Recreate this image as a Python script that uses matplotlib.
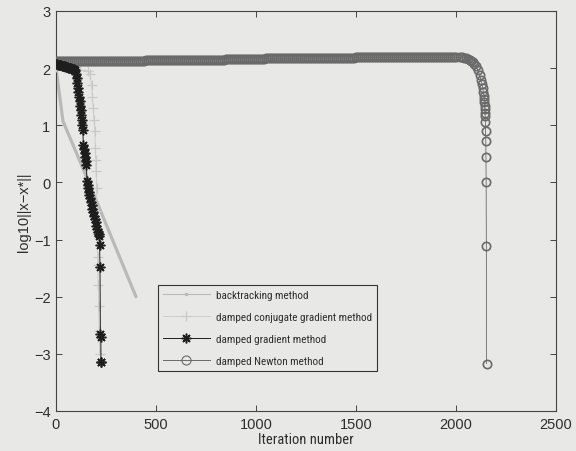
import matplotlib
matplotlib.use("Agg")
import matplotlib.pyplot as plt
from matplotlib import font_manager
from matplotlib.lines import Line2D

# a narrow sans face for the legend and axis title, if one is installed
installed = {f.name for f in font_manager.fontManager.ttflist}
narrow_candidates = ['Liberation Sans Narrow', 'Arial Narrow',
                     'Roboto Condensed', 'Archivo Narrow', 'PT Sans Narrow',
                     'Pragati Narrow', 'Open Sans Condensed',
                     'Fira Sans Condensed', 'IBM Plex Sans Condensed',
                     'Encode Sans Condensed']
narrow = next((n for n in narrow_candidates if n in installed),
              'Liberation Sans')
plt.rcParams['font.family'] = ['Liberation Sans', 'DejaVu Sans']

# ---- data: log10 of the error versus iteration number ----
bt_iter = [0, 35, 150, 400]
bt_val = [2.00, 1.07, 0.12, -2.00]

cg_iter = [0, 40, 80, 120, 160, 170, 178, 182, 186, 190, 194, 197, 199,
           201, 203, 205, 207, 208, 209, 211, 213, 216, 219]
cg_val = [2.02, 2.00, 1.98, 1.97, 1.95, 1.90, 1.70, 1.50, 1.30, 1.10, 0.90,
          0.60, 0.40, 0.20, -0.10, -0.50, -0.90, -1.30, -1.45, -1.80, -2.16,
          -2.60, -3.00]

gd_iter = [0, 5, 10, 15, 20, 25, 30, 35, 40, 45, 50, 55, 60, 65, 70, 75, 80,
           85, 90, 95, 100, 103, 106, 109, 112, 115, 118, 121, 124, 127, 130,
           132, 134, 137, 140, 143, 146, 149, 152, 155, 158, 161, 164, 167,
           170, 174, 178, 182, 186, 190, 194, 198, 202, 206, 210, 213, 216,
           218, 220, 222, 224, 225, 227]
gd_val = [2.07, 2.07, 2.06, 2.06, 2.05, 2.05, 2.04, 2.04, 2.03, 2.03, 2.02,
          2.02, 2.01, 2.01, 2.00, 2.00, 1.99, 1.99, 1.98, 1.97, 1.90, 1.82,
          1.74, 1.66, 1.58, 1.50, 1.42, 1.34, 1.26, 1.18, 1.10, 1.00, 0.92,
          0.66, 0.58, 0.51, 0.44, 0.37, 0.30, 0.02, -0.04, -0.10, -0.16,
          -0.22, -0.28, -0.34, -0.40, -0.46, -0.52, -0.58, -0.64, -0.70,
          -0.76, -0.81, -0.86, -0.90, -0.94, -1.10, -1.48, -2.65, -2.70,
          -3.15, -3.15]

# Newton: slow damped phase (sampled every 10 iterations), then the
# quadratically convergent tail
nt_iter = list(range(0, 2001, 10)) + [2020, 2030, 2040, 2050, 2060, 2068,
                                      2075, 2083, 2090, 2100, 2110, 2118,
                                      2125, 2130, 2134, 2137, 2139, 2141,
                                      2142, 2143, 2144, 2145, 2146, 2147,
                                      2148, 2149, 2150, 2151, 2152, 2153]
nt_val = [
    2.12, 2.12, 2.12, 2.12, 2.12, 2.12, 2.12, 2.12, 2.12, 2.12,
    2.12, 2.12, 2.12, 2.12, 2.12, 2.12, 2.12, 2.12, 2.12, 2.12,
    2.12, 2.12, 2.12, 2.12, 2.12, 2.13, 2.13, 2.13, 2.13, 2.13,
    2.13, 2.13, 2.13, 2.13, 2.13, 2.13, 2.13, 2.13, 2.13, 2.13,
    2.13, 2.13, 2.13, 2.13, 2.13, 2.14, 2.14, 2.14, 2.14, 2.14,
    2.14, 2.14, 2.14, 2.14, 2.14, 2.14, 2.14, 2.14, 2.14, 2.14,
    2.14, 2.14, 2.14, 2.14, 2.14, 2.15, 2.15, 2.15, 2.15, 2.15,
    2.15, 2.15, 2.15, 2.15, 2.15, 2.15, 2.15, 2.15, 2.15, 2.15,
    2.15, 2.15, 2.15, 2.15, 2.15, 2.16, 2.16, 2.16, 2.16, 2.16,
    2.16, 2.16, 2.16, 2.16, 2.16, 2.16, 2.16, 2.16, 2.16, 2.16,
    2.16, 2.16, 2.16, 2.16, 2.16, 2.17, 2.17, 2.17, 2.17, 2.17,
    2.17, 2.17, 2.17, 2.17, 2.17, 2.17, 2.17, 2.17, 2.17, 2.17,
    2.17, 2.17, 2.17, 2.17, 2.17, 2.18, 2.18, 2.18, 2.18, 2.18,
    2.18, 2.18, 2.18, 2.18, 2.18, 2.18, 2.18, 2.18, 2.18, 2.18,
    2.18, 2.18, 2.18, 2.18, 2.18, 2.18, 2.18, 2.18, 2.18, 2.18,
    2.19, 2.19, 2.19, 2.19, 2.19, 2.19, 2.19, 2.19, 2.19, 2.19,
    2.19, 2.19, 2.19, 2.19, 2.19, 2.19, 2.19, 2.19, 2.19, 2.19,
    2.19, 2.19, 2.19, 2.19, 2.19, 2.19, 2.19, 2.19, 2.19, 2.19,
    2.19, 2.19, 2.19, 2.19, 2.19, 2.19, 2.19, 2.19, 2.19, 2.19,
    2.19, 2.19, 2.19, 2.19, 2.19, 2.19, 2.19, 2.19, 2.19, 2.19,
    2.19,
    2.19, 2.19, 2.18, 2.17, 2.16, 2.15, 2.13, 2.11, 2.08, 2.03,
    1.96, 1.88, 1.80, 1.72, 1.65, 1.58, 1.52, 1.46, 1.40, 1.34,
    1.28, 1.22, 1.16, 1.06, 0.90, 0.73, 0.45, 0.00, -1.12, -3.17]

labels = ['backtracking method', 'damped conjugate gradient method',
          'damped gradient method', 'damped Newton method']
xticks = [0, 500, 1000, 1500, 2000, 2500]
yticks = [-4, -3, -2, -1, 0, 1, 2, 3]

# ---- styling ----
DPI = 100
bg = '#e8e8e6'
ink = '#2e2e2e'
light = '#b9b9b9'
pale = '#c9c9c9'
mid = '#6a6a6a'
asterisk = (8, 2, 0)

fig = plt.figure(figsize=(5.76, 4.52), dpi=DPI, facecolor=bg)
ax = fig.add_axes([0.0972, 0.0885, 0.868, 0.885], facecolor=bg)

ax.plot(bt_iter, bt_val, color=light, lw=2.3, solid_capstyle='round',
        zorder=2)
ax.plot(cg_iter, cg_val, color=pale, lw=0.6, marker='+', ms=7, mew=0.9,
        zorder=3)
ax.plot(nt_iter, nt_val, color=mid, lw=0.6, marker='o', ms=6.0,
        mfc='none', mec=mid, mew=1.2, zorder=4)
ax.plot(gd_iter, gd_val, color='#1e1e1e', lw=0.7, marker=asterisk, ms=7,
        mew=1.1, mec='#1e1e1e', zorder=5)

ax.set_xlim(0, 2500)
ax.set_ylim(-4, 3)
ax.set_xticks(xticks)
ax.set_yticks(yticks)
ax.set_xticklabels([str(t) for t in xticks])
ax.set_yticklabels([str(t).replace('-', '\u2212') for t in yticks])
ax.tick_params(direction='in', length=4, width=0.7, colors='#444444',
               labelcolor=ink, labelsize=10.5, top=True, right=True, pad=4)
for s in ax.spines.values():
    s.set_color('#444444')
    s.set_linewidth(0.8)

xlab = ax.set_xlabel('Iteration number', fontsize=11, color=ink,
                     labelpad=1, family=[narrow, 'DejaVu Sans'])
ax.set_ylabel('log10||x\u2212x*||', fontsize=10.5, color=ink, labelpad=2)

handles = [
    Line2D([], [], color=light, lw=0.8, marker='.', ms=3),
    Line2D([], [], color=pale, lw=0.6, marker='+', ms=7, mew=0.9),
    Line2D([], [], color='#1e1e1e', lw=0.7, marker=asterisk, ms=7, mew=1.1),
    Line2D([], [], color=mid, lw=0.7, marker='o', ms=6.5, mfc='none',
           mec=mid, mew=0.8),
]


def make_legend(size, spacing):
    em = size * DPI / 72.0
    leg = ax.legend(handles, labels, loc='lower left',
                    bbox_to_anchor=(0.204, 0.10), frameon=True,
                    prop={'family': [narrow, 'DejaVu Sans'], 'size': size},
                    fancybox=False, edgecolor='#333333', facecolor=bg,
                    framealpha=1, handlelength=47 / em,
                    handletextpad=6 / em, borderpad=5 / em,
                    labelspacing=spacing, borderaxespad=0)
    leg.get_frame().set_linewidth(0.8)
    for t in leg.get_texts():
        t.set_color(ink)
    return leg


# size the legend text so the longest entry spans ~157 px
renderer = fig.canvas.get_renderer()
size = 9.0
leg = make_legend(size, 0.5)
fig.canvas.draw()
w = max(t.get_window_extent(renderer).width for t in leg.get_texts())
size = size * 157.0 / w
leg = make_legend(size, 0.5)
fig.canvas.draw()
row_h = leg.get_texts()[0].get_window_extent(renderer).height
em = size * DPI / 72.0
leg = make_legend(size, max(0.1, (22.0 - row_h) / em))

# axis title width ~95 px
fig.canvas.draw()
w = xlab.get_window_extent(renderer).width
xlab.set_fontsize(xlab.get_fontsize() * 95.0 / w)

fig.savefig('out.png', dpi=DPI, facecolor=bg)
